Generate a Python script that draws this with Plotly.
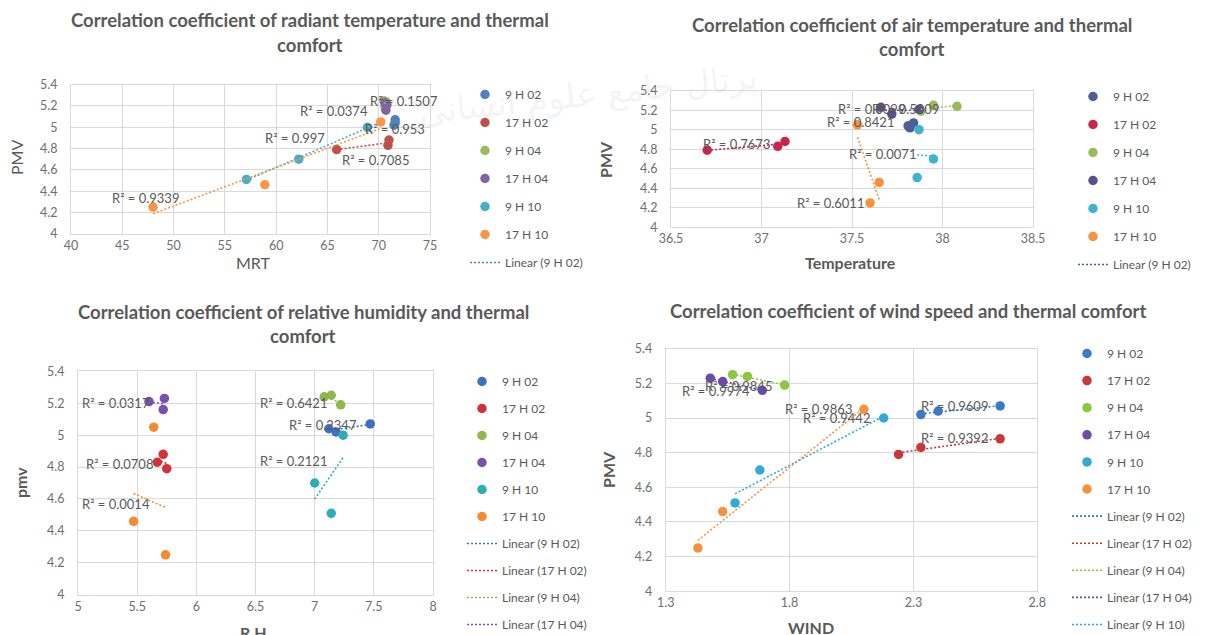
import numpy as np
import plotly.graph_objects as go

# ---------------- data ----------------
series = ["9 H 02", "17 H 02", "9 H 04", "17 H 04", "9 H 10", "17 H 10"]

# PMV values per series (order of points within each panel follows the lists below)
pmv_9h02 = [5.02, 5.04, 5.07]
pmv_17h02 = [4.79, 4.83, 4.88]
pmv_9h04 = [5.25, 5.24, 5.19]
pmv_17h04 = [5.23, 5.21, 5.16]
pmv_9h10 = [4.51, 4.70, 5.00]
pmv_17h10 = [4.25, 4.46, 5.05]
pmv_all = [pmv_9h02, pmv_17h02, pmv_9h04, pmv_17h04, pmv_9h10, pmv_17h10]

# Panel 1: mean radiant temperature
mrt_x = [[71.5, 71.6, 71.6], [65.9, 70.9, 71.0], [70.5, 70.7, 70.6],
         [70.6, 70.8, 70.7], [57.1, 62.2, 68.9], [48.0, 58.9, 70.2]]
mrt_r2 = ["R² = 0.953", "R² = 0.7085", "R² = 0.0374", "R² = 0.1507", "R² = 0.997", "R² = 0.9339"]

# Panel 2: air temperature
temp_x = [[37.82, 37.81, 37.84], [36.70, 37.09, 37.13], [37.95, 38.08, 37.88],
          [37.66, 37.87, 37.72], [37.86, 37.95, 37.87], [37.60, 37.65, 37.53]]
temp_r2 = ["R² = 0.8421", "R² = 0.7673", "R² = 0.5009", "R² = 0.0099", "R² = 0.0071", "R² = 0.6011"]

# Panel 3: relative humidity
rh_x = [[7.18, 7.12, 7.47], [5.75, 5.67, 5.72], [7.14, 7.08, 7.22],
        [5.73, 5.60, 5.72], [7.14, 7.00, 7.24], [5.74, 5.47, 5.64]]
rh_r2 = ["R² = 0.2347", "R² = 0.0708", "R² = 0.6421", "R² = 0.0317", "R² = 0.2121", "R² = 0.0014"]

# Panel 4: wind speed
wind_x = [[2.33, 2.40, 2.65], [2.24, 2.33, 2.65], [1.57, 1.63, 1.78],
          [1.48, 1.53, 1.69], [1.58, 1.68, 2.18], [1.43, 1.53, 2.10]]
wind_r2 = ["R² = 0.9609", "R² = 0.9392", "R² = 0.9845", "R² = 0.9974", "R² = 0.9442", "R² = 0.9863"]

# label positions for the R² texts (data coordinates)
mrt_lab_pos = [(71.6, 4.983), (69.7, 4.69), (65.6, 5.153), (72.46, 5.247), (61.8, 4.90), (47.3, 4.335)]
temp_lab_pos = [(37.546, 5.075), (36.86, 4.85), (37.795, 5.209), (37.607, 5.209), (37.667, 4.749), (37.38, 4.248)]
rh_lab_pos = [(7.07, 5.064), (5.347, 4.82), (6.82, 5.20), (5.32, 5.20), (6.82, 4.838), (5.32, 4.569)]
wind_lab_pos = [(2.464, 5.07), (2.464, 4.885), (1.592, 5.185), (1.503, 5.156), (1.988, 5.00), (1.915, 5.052)]

titles = [
    ["Correlation coefficient of radiant temperature and thermal", "comfort"],
    ["Correlation coefficient of air temperature and thermal", "comfort"],
    ["Correlation coefficient of relative humidity and thermal", "comfort"],
    ["Correlation coefficient of wind speed and thermal comfort"],
]

# ---------------- style ----------------
FONT = "Lato"
GRAY = "#595959"
TICKGRAY = "#6E6E6E"
palettes = [
    ["#4F81BD", "#C0504D", "#9BBB59", "#8064A2", "#4BACC6", "#F79646"],
    ["#4F5E98", "#C8264B", "#9BBB59", "#5E4F8C", "#3DB3CF", "#F7913D"],
    ["#3F6FC0", "#D0313B", "#8EB849", "#7A4FB0", "#2EADB7", "#F58A2E"],
    ["#3A7BC8", "#C8383A", "#8DC63F", "#6A4BA8", "#33A9D5", "#F7913D"],
]
legend_lines = [1, 1, 4, 5]  # how many "Linear (...)" entries are visible in each legend

W, H = 1205, 635
def px_x(p):
    return p / W
def px_y(p):
    return 1 - p / H

domains = [
    ((63, 422), (76.7, 225.7)),
    ((663, 1025), (82.7, 219.3)),
    ((70, 425), (363.3, 586.7)),
    ((657.7, 1029.3), (340.7, 583.3)),
]
xranges = [(40, 75), (36.5, 38.5), (5, 8), (1.3, 2.8)]
xdticks = [5, 0.5, 0.5, 0.5]
legend_pos = [(457, 72, 9.0), (1065, 74, 9.0), (454, 359, 8.0), (1059, 331, 8.1)]

panels = [
    (mrt_x, mrt_r2, mrt_lab_pos),
    (temp_x, temp_r2, temp_lab_pos),
    (rh_x, rh_r2, rh_lab_pos),
    (wind_x, wind_r2, wind_lab_pos),
]

fig = go.Figure()
annotations = []

# faint watermark
annotations.append(dict(x=px_x(580), y=px_y(86), xref="paper", yref="paper",
                        text="پرتال جامع علوم انسانی", showarrow=False, textangle=-6,
                        xanchor="center", yanchor="middle",
                        font=dict(family="DejaVu Sans", size=34, color="rgba(190,190,190,0.16)")))

for pi, (xs_all, r2s, labpos) in enumerate(panels):
    ax = "" if pi == 0 else str(pi + 1)
    xa, ya = "x" + ax, "y" + ax
    lg = "legend" if pi == 0 else "legend" + str(pi + 1)
    cols = palettes[pi]
    # markers
    for si, name in enumerate(series):
        fig.add_trace(go.Scatter(
            x=xs_all[si], y=pmv_all[si], mode="markers", name=name,
            marker=dict(color=cols[si], size=9.5),
            xaxis=xa, yaxis=ya, legend=lg, legendgroup=f"p{pi}m{si}",
            showlegend=True, hoverinfo="skip"))
    # linear trendlines
    for si, name in enumerate(series):
        xv = np.array(xs_all[si], dtype=float)
        yv = np.array(pmv_all[si], dtype=float)
        k, b = np.polyfit(xv, yv, 1)
        xl = np.array([xv.min(), xv.max()])
        fig.add_trace(go.Scatter(
            x=xl, y=k * xl + b, mode="lines", name=f"Linear ({name})",
            line=dict(color=cols[si], width=1.6, dash="2px,2px"),
            xaxis=xa, yaxis=ya, legend=lg, legendgroup=f"p{pi}l{si}",
            showlegend=si < legend_lines[pi], hoverinfo="skip"))
    # R² labels
    for si in range(len(series)):
        lx, ly = labpos[si]
        annotations.append(dict(x=lx, y=ly, xref=xa, yref=ya, text=r2s[si],
                                xanchor="center", yanchor="middle",
                                showarrow=False, font=dict(family=FONT, size=13, color=GRAY)))

# axes
for pi in range(4):
    (x0, x1), (y0, y1) = domains[pi]
    key = "" if pi == 0 else str(pi + 1)
    common = dict(showgrid=True, gridcolor="#D9D9D9", gridwidth=1, zeroline=False,
                  showline=True, linecolor="#D9D9D9", mirror=True, ticks="",
                  tickfont=dict(family=FONT, size=12.5, color=TICKGRAY))
    fig.layout["xaxis" + key] = dict(common, domain=[px_x(x0), px_x(x1)], range=list(xranges[pi]),
                                    tick0=xranges[pi][0], dtick=xdticks[pi],
                                    anchor="y" + key, ticklabelstandoff=0)
    fig.layout["yaxis" + key] = dict(common, domain=[px_y(y1), px_y(y0)], range=[4, 5.4],
                                    tick0=4, dtick=0.2, anchor="x" + key, ticklabelstandoff=10)

# legends
for pi in range(4):
    lx, ly, gap = legend_pos[pi]
    key = "legend" if pi == 0 else "legend" + str(pi + 1)
    fig.layout[key] = dict(x=px_x(lx), y=px_y(ly), xanchor="left", yanchor="top",
                           xref="paper", yref="paper", traceorder="grouped",
                           tracegroupgap=gap, bgcolor="rgba(0,0,0,0)",
                           font=dict(family=FONT, size=12, color=GRAY))

# titles
title_pos = [(302, [12, 37]), (904, [17, 41]), (295, [304, 328]), (900, [303])]
for pi, (cx, ys) in enumerate(title_pos):
    for line, yy in zip(titles[pi], ys):
        annotations.append(dict(x=px_x(cx), y=px_y(yy), xref="paper", yref="paper",
                                xanchor="center", yanchor="middle",
                                text=f"<b>{line}</b>", showarrow=False,
                                font=dict(family=FONT, size=18.5, color=GRAY)))

# axis titles
axis_titles = [
    ("MRT", 245, 255, 0, False), ("PMV", 8, 150, -90, False),
    ("Temperature", 842, 255, 0, True), ("PMV", 597, 152, -90, True),
    ("R H", 245, 624, 0, True), ("pmv", 12, 475, -90, True),
    ("WIND", 803, 619, 0, True), ("PMV", 600, 462, -90, True),
]
for txt, x, y, ang, bold in axis_titles:
    annotations.append(dict(x=px_x(x), y=px_y(y), xref="paper", yref="paper",
                            xanchor="center", yanchor="middle",
                            text=f"<b>{txt}</b>" if bold else txt, showarrow=False,
                            textangle=ang, font=dict(family=FONT, size=16, color=GRAY)))

fig.update_layout(
    width=W, height=H, paper_bgcolor="white", plot_bgcolor="white",
    margin=dict(l=0, r=0, t=0, b=0, autoexpand=False),
    annotations=annotations, font=dict(family=FONT, color=GRAY),
)

fig.write_html("out.html")
